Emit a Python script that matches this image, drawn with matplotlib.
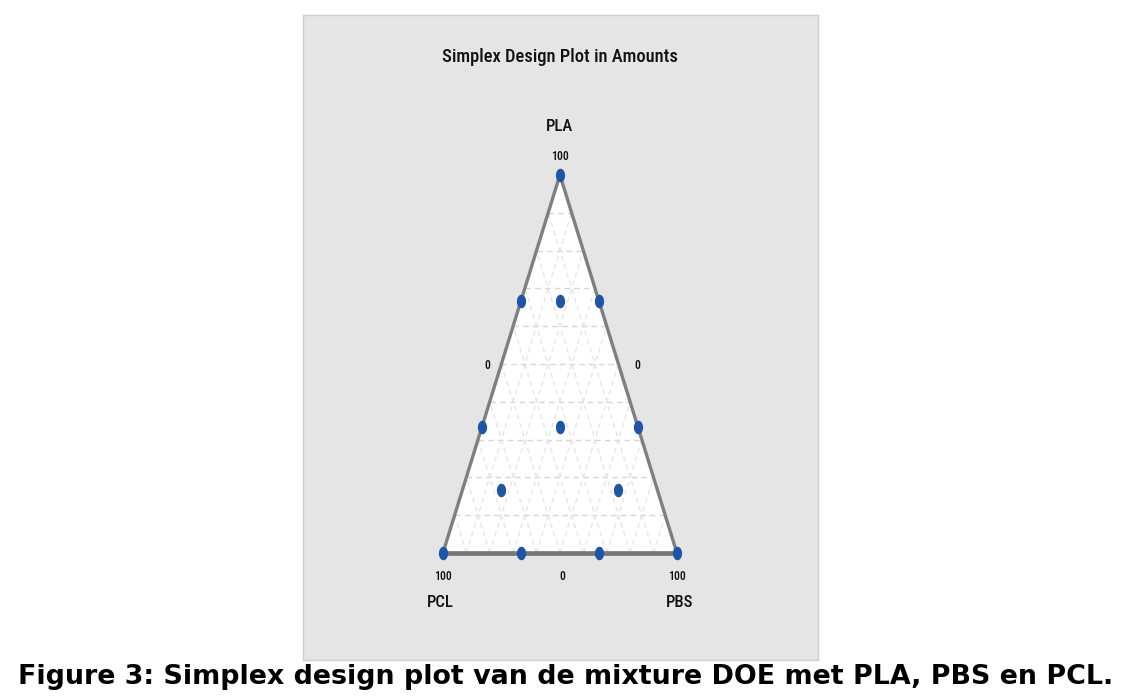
import matplotlib
matplotlib.use("Agg")
import matplotlib.pyplot as plt
import numpy as np
from matplotlib import font_manager
from matplotlib.path import Path
from matplotlib.patches import Polygon

# ---- data ----
components = ["PLA", "PBS", "PCL"]
pla = [1.0, 0.0, 0.0, 2/3, 2/3, 0.0, 1/3, 1/3, 0.0, 1/3, 2/3, 1/6, 1/6]
pbs = [0.0, 1.0, 0.0, 1/3, 0.0, 2/3, 2/3, 0.0, 1/3, 1/3, 1/6, 2/3, 1/6]
pcl = [0.0, 0.0, 1.0, 0.0, 1/3, 1/3, 0.0, 2/3, 2/3, 1/3, 1/6, 1/6, 2/3]
vertex_ticks = ["100", "100", "100"]
edge_ticks = ["0", "0", "0"]
title = "Simplex Design Plot in Amounts"
caption = "Figure 3: Simplex design plot van de mixture DOE met PLA, PBS en PCL."

avail = {f.name for f in font_manager.fontManager.ttflist}
NARROW = [f for f in ("Roboto Condensed", "PT Sans Narrow", "Archivo Narrow") if f in avail] + ["DejaVu Sans"]


def to_xy(a, b, c):
    a = np.asarray(a, float); b = np.asarray(b, float); c = np.asarray(c, float)
    s = a + b + c
    return (b + a / 2) / s, a / s


fig = plt.figure(figsize=(11.22, 7.00), dpi=100)
fig.patch.set_facecolor("white")

# panel in figure fractions
L, R, B, T = 303 / 1122, 818 / 1122, 1 - 660 / 700, 1 - 15 / 700
ax = fig.add_axes([L, B, R - L, T - B])
ax.set_facecolor("#e5e5e5")
for s in ax.spines.values():
    s.set_color("#cfcfcf")
    s.set_linewidth(1.0)
ax.set_xticks([]); ax.set_yticks([])
ax.set_xlim(-0.598, 1.603)
ax.set_ylim(-0.283, 1.423)

# triangle fill
top, bl, br = to_xy(1, 0, 0), to_xy(0, 0, 1), to_xy(0, 1, 0)
ax.add_patch(Polygon([top, bl, br], closed=True, facecolor="white", edgecolor="none", zorder=1))

# grid lines
levels = np.arange(1, 10) / 10
for v in levels:
    p1 = to_xy(v, 0, 1 - v); p2 = to_xy(v, 1 - v, 0)
    ax.plot([p1[0], p2[0]], [p1[1], p2[1]], ls=(0, (4, 3)), color="#d6d6d6", lw=1.0, zorder=2)
    p1 = to_xy(0, v, 1 - v); p2 = to_xy(1 - v, v, 0)
    ax.plot([p1[0], p2[0]], [p1[1], p2[1]], ls=(0, (4, 3)), color="#e3e3e3", lw=0.9, zorder=2)
    p1 = to_xy(0, 1 - v, v); p2 = to_xy(1 - v, 0, v)
    ax.plot([p1[0], p2[0]], [p1[1], p2[1]], ls=(0, (4, 3)), color="#e3e3e3", lw=0.9, zorder=2)

# edges
ax.plot([bl[0], top[0], br[0]], [bl[1], top[1], br[1]], color="#7f7f7f", lw=2.4, zorder=3,
        solid_capstyle="round", solid_joinstyle="round")
ax.plot([bl[0], br[0]], [bl[1], br[1]], color="#777777", lw=3.4, zorder=3)

# design points (elliptical markers)
th = np.linspace(0, 2 * np.pi, 60)
ell = Path(np.column_stack([0.68 * np.cos(th), np.sin(th)]), closed=True)
x, y = to_xy(pla, pbs, pcl)
ax.scatter(x, y, marker=ell, s=95, color="#1f55a7", zorder=5, linewidths=0)

# texts (positions in simplex coordinates; y=1 is the PLA vertex, 1 unit = 378 px)
PX = 1 / 378
XP = 1 / 234
kw = dict(ha="center", va="center", family=NARROW, color="#111111", fontweight="medium")
ax.text(0.5, (553 - 57) * PX, title, fontsize=13.3, **kw)
ax.text(top[0], (553 - 127) * PX, components[0], fontsize=12, **kw)
ax.text(top[0], (553 - 157) * PX, vertex_ticks[0], fontsize=8.5, **kw)
ax.text(bl[0], -23 * PX, vertex_ticks[2], fontsize=8.5, **kw)
ax.text(br[0], -23 * PX, vertex_ticks[1], fontsize=8.5, **kw)
ax.text(0.5 + 2 * XP, -23 * PX, edge_ticks[0], fontsize=8.5, **kw)
ax.text((487 - 443) * XP, (553 - 366) * PX, edge_ticks[1], fontsize=8.5, **kw)
ax.text((637 - 443) * XP, (553 - 366) * PX, edge_ticks[2], fontsize=8.5, **kw)
ax.text(-3 * XP, -49 * PX, components[2], fontsize=12, **kw)
ax.text((680 - 443) * XP, -49 * PX, components[1], fontsize=12, **kw)

fig.text(566 / 1122, 1 - 684 / 700, caption, ha="center", va="baseline", fontsize=19.4,
         fontweight="bold", family="DejaVu Sans", color="black")

fig.savefig("out.png", dpi=100)
